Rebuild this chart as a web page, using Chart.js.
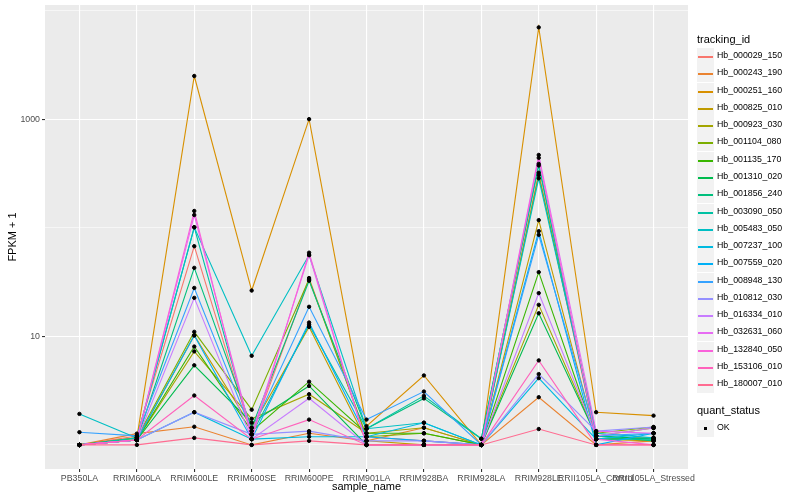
<!DOCTYPE html>
<html>
<head>
<meta charset="utf-8">
<script src="https://cdn.jsdelivr.net/npm/chart.js@4/dist/chart.umd.min.js"></script>
<style>
    body { margin: 0; background: #fff; font-family: "Liberation Sans", Arial, sans-serif; }
    #wrap { position: relative; width: 800px; height: 500px; }
    #legend { position: absolute; left: 697px; top: 0; width: 103px; }
    .lg-title { position: absolute; left: 0; font-size: 11px; color: #000; white-space: nowrap; }
    .lg-row { position: absolute; left: 0; height: 17px; width: 103px; }
    .lg-key { position: absolute; left: 0; top: 0; width: 17px; height: 17px; background: #F2F2F2; }
    .lg-line { position: absolute; left: 1px; top: 8px; width: 15px; height: 1.5px; }
    .lg-dot { position: absolute; left: 7px; top: 7px; width: 3px; height: 3px; background: #000; }
    .lg-label { position: absolute; left: 20px; top: 2px; font-size: 8.8px; color: #000; white-space: nowrap; }
</style>
</head>
<body>
<div id="wrap">
    <canvas id="fpkm-chart" width="800" height="500"></canvas>
    <div id="legend"></div>
</div>
<script>
const sampleNames = ['PB350LA', 'RRIM600LA', 'RRIM600LE', 'RRIM600SE', 'RRIM600PE', 'RRIM901LA',
    'RRIM928BA', 'RRIM928LA', 'RRIM928LE', 'RRII105LA_Control', 'RRII105LA_Stressed'];

const trackingIds = ['Hb_000029_150', 'Hb_000243_190', 'Hb_000251_160', 'Hb_000825_010', 'Hb_000923_030',
    'Hb_001104_080', 'Hb_001135_170', 'Hb_001310_020', 'Hb_001856_240', 'Hb_003090_050',
    'Hb_005483_050', 'Hb_007237_100', 'Hb_007559_020', 'Hb_008948_130', 'Hb_010812_030',
    'Hb_016334_010', 'Hb_032631_060', 'Hb_132840_050', 'Hb_153106_010', 'Hb_180007_010'];

// FPKM + 1, one row per tracking_id, one column per sample
const fpkmPlusOne = [
    [1.0, 1.21, 67.6, 1.25, 34.4, 1.19, 1.09, 1.0, 321, 1.13, 1.16],
    [1.0, 1.27, 1.47, 1.0, 1.28, 1.09, 1.44, 1.0, 2.75, 1.0, 1.09],
    [1.0, 1.16, 2496, 26.4, 1000, 1.49, 4.36, 1.0, 7000, 2.0, 1.86],
    [1.0, 1.11, 10.2, 1.44, 12.2, 1.09, 1.0, 1.0, 117.5, 1.13, 1.09],
    [1.0, 1.11, 7.26, 1.74, 2.93, 1.28, 1.44, 1.0, 19.5, 1.21, 1.43],
    [1.0, 1.16, 11.0, 2.11, 33.5, 1.19, 1.28, 1.0, 305, 1.28, 1.46],
    [1.0, 1.11, 8.05, 1.34, 3.82, 1.28, 1.28, 1.0, 39, 1.13, 1.16],
    [1.0, 1.11, 5.41, 1.60, 3.49, 1.0, 1.0, 1.0, 16.3, 1.21, 1.13],
    [1.0, 1.11, 42.7, 1.44, 32.5, 1.41, 2.68, 1.14, 374, 1.21, 1.09],
    [1.0, 1.16, 101, 1.25, 12.8, 1.41, 2.83, 1.14, 387, 1.13, 1.13],
    [1.93, 1.16, 101, 6.62, 56, 1.41, 1.60, 1.0, 285, 1.28, 1.16],
    [1.0, 1.11, 2.0, 1.13, 1.19, 1.19, 1.60, 1.0, 4.12, 1.13, 1.28],
    [1.0, 1.11, 10.2, 1.13, 13.4, 1.19, 1.09, 1.0, 93, 1.0, 1.28],
    [1.31, 1.21, 27.9, 1.34, 18.7, 1.71, 3.10, 1.0, 86, 1.21, 1.28],
    [1.0, 1.11, 2.0, 1.25, 1.34, 1.09, 1.09, 1.0, 4.49, 1.34, 1.46],
    [1.0, 1.11, 22.6, 1.13, 2.69, 1.0, 1.0, 1.0, 25, 1.21, 1.43],
    [1.0, 1.11, 131, 1.25, 56, 1.0, 1.0, 1.0, 468, 1.34, 1.28],
    [1.0, 1.11, 142.7, 1.13, 58.9, 1.0, 1.0, 1.0, 440, 1.13, 1.0],
    [1.0, 1.11, 2.85, 1.13, 1.71, 1.0, 1.0, 1.0, 6.0, 1.0, 1.0],
    [1.0, 1.0, 1.16, 1.0, 1.09, 1.0, 1.0, 1.0, 1.40, 1.0, 1.0],
];

const yBreaks = [1, 10, 100, 1000, 10000];
const yLabelled = [10, 1000];

const hueColors = ['#F8766D', '#EA8331', '#D89000', '#C09B00', '#A3A500', '#7CAE00', '#39B600',
    '#00BB4E', '#00BF7D', '#00C1A3', '#00BFC4', '#00BAE0', '#00B0F6', '#35A2FF', '#9590FF',
    '#C77CFF', '#E76BF3', '#FA62DB', '#FF62BC', '#FF6C91'];

const FONT = '"Liberation Sans", Arial, sans-serif';

const lineDatasets = trackingIds.map((id, i) => ({
    type: 'line',
    label: id,
    data: fpkmPlusOne[i].map((v, j) => ({ x: j, y: v })),
    borderColor: hueColors[i],
    borderWidth: 1.1,
    pointRadius: 0,
    tension: 0,
    order: trackingIds.length - i,
}));

const pointDataset = {
    type: 'scatter',
    label: 'OK',
    data: fpkmPlusOne.flatMap(row => row.map((v, j) => ({ x: j, y: v }))),
    backgroundColor: '#000',
    borderColor: '#000',
    pointRadius: 1.7,
    pointHoverRadius: 1.7,
    order: -1,
};

const panelBackground = {
    id: 'panelBackground',
    beforeDraw(chart) {
        const { ctx, chartArea } = chart;
        ctx.save();
        ctx.fillStyle = '#EBEBEB';
        ctx.fillRect(chartArea.left, chartArea.top, chartArea.right - chartArea.left, chartArea.bottom - chartArea.top);
        ctx.restore();
    },
};

const ctx = document.getElementById('fpkm-chart').getContext('2d');
new Chart(ctx, {
    data: { datasets: [...lineDatasets, pointDataset] },
    options: {
        responsive: false,
        animation: false,
        events: [],
        layout: { padding: { top: 5, right: 112, left: 0, bottom: 0 } },
        plugins: { legend: { display: false }, tooltip: { enabled: false } },
        scales: {
            x: {
                type: 'linear',
                min: -0.6,
                max: 10.6,
                afterBuildTicks: scale => {
                    scale.ticks = sampleNames.map((_, i) => ({ value: i }));
                },
                afterFit: scale => {
                    scale.height = 31;
                    scale.paddingLeft = 0;
                    scale.paddingRight = 0;
                },
                border: { display: false },
                grid: { color: '#FFFFFF', lineWidth: 1.1, tickLength: 3, tickColor: '#333333' },
                ticks: {
                    autoSkip: false,
                    maxRotation: 0,
                    padding: 1,
                    color: '#4D4D4D',
                    font: { family: FONT, size: 8.8 },
                    callback: value => sampleNames[value],
                },
                title: {
                    display: true,
                    text: 'sample_name',
                    color: '#000',
                    font: { family: FONT, size: 11 },
                    padding: { top: 0, bottom: 6 },
                },
            },
            y: {
                type: 'logarithmic',
                min: 0.64,
                max: 11250,
                afterBuildTicks: scale => {
                    scale.ticks = yBreaks.map(v => ({ value: v }));
                },
                afterFit: scale => {
                    scale.width = 45;
                    scale.paddingTop = 0;
                    scale.paddingBottom = 0;
                },
                border: { display: false },
                grid: {
                    color: '#FFFFFF',
                    lineWidth: c => (yLabelled.includes(c.tick.value) ? 1.1 : 0.55),
                    tickLength: 3,
                    tickColor: c => (yLabelled.includes(c.tick.value) ? '#333333' : 'rgba(0,0,0,0)'),
                },
                ticks: {
                    padding: 2,
                    color: '#4D4D4D',
                    font: { family: FONT, size: 8.8 },
                    callback: value => (yLabelled.includes(value) ? String(value) : ''),
                },
                title: {
                    display: true,
                    text: 'FPKM + 1',
                    color: '#000',
                    font: { family: FONT, size: 11 },
                    padding: { top: 6, bottom: 0 },
                },
            },
        },
    },
    plugins: [panelBackground],
});

// ggplot style legend on the right
const legend = document.getElementById('legend');
let html = '<div class="lg-title" style="top:33px">tracking_id</div>';
trackingIds.forEach((id, i) => {
    const top = Math.round(48 + i * 17.28);
    html += `<div class="lg-row" style="top:${top}px"><div class="lg-key"><div class="lg-line" style="background:${hueColors[i]}"></div></div><div class="lg-label">${id}</div></div>`;
});
html += '<div class="lg-title" style="top:404px">quant_status</div>';
html += '<div class="lg-row" style="top:420px"><div class="lg-key"><div class="lg-dot"></div></div><div class="lg-label">OK</div></div>';
legend.innerHTML = html;
</script>
</body>
</html>
